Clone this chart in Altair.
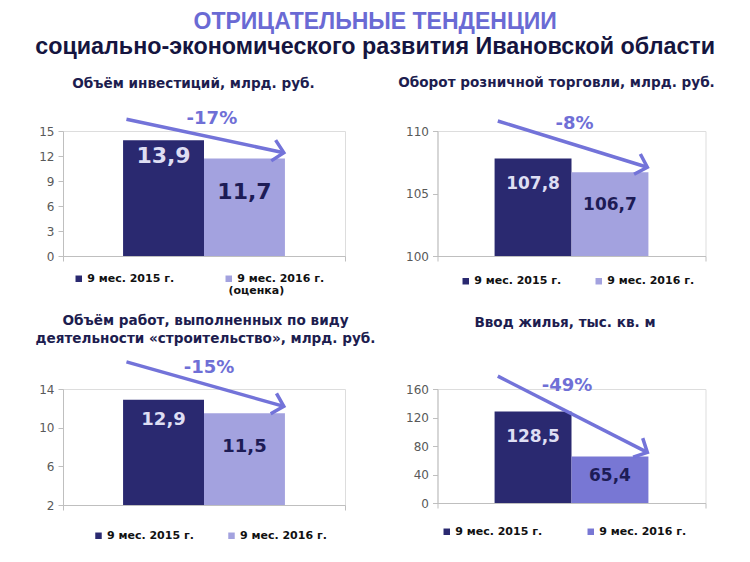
import math
import altair as alt
import pandas as pd

# ---------------- data ----------------
main_title = "ОТРИЦАТЕЛЬНЫЕ ТЕНДЕНЦИИ"
sub_title = "социально-экономического развития Ивановской области"

panel_titles = [
    "Объём инвестиций, млрд. руб.",
    "Оборот розничной торговли, млрд. руб.",
    ["Объём работ, выполненных по виду", "деятельности «строительство», млрд. руб."],
    "Ввод жилья, тыс. кв. м",
]
periods = ["9 мес. 2015 г.", "9 мес. 2016 г."]
estimate_note = "(оценка)"

investment = [13.9, 11.7]
retail = [107.8, 106.7]
construction = [12.9, 11.5]
housing = [128.5, 65.4]

changes = ["-17%", "-8%", "-15%", "-49%"]

y_domains = [[0, 15], [100, 110], [2, 14], [0, 160]]
y_ticks = [[0, 3, 6, 9, 12, 15], [100, 105, 110], [2, 6, 10, 14], [0, 40, 80, 120, 160]]

# arrow annotation (start / end heights, label position) in each panel's units
arrow_from = [16.4, 110.8, 16.8, 178]
arrow_to = [12.4, 107.1, 12.2, 71]
change_y = [16.5, 110.56, 16.2, 164.8]
change_x = [0.528, 0.511, 0.518, 0.483]
note_pos = (0.587, -4.2)

# ---------------- style ----------------
DARK = "#2a2970"
LIGHT = "#a3a2df"
LIGHT4 = "#7877d4"
ARROW = "#7373d9"
PCT = "#6f6fd6"
TXT_ON_DARK = "#dedef3"
TXT_ON_LIGHT = "#1d1c56"
AXIS = "#bfbfbf"
NAVY = "#1d1d4f"

WIDTHS = [282, 268, 282, 268]
HEIGHTS = [125, 125, 116, 114]
BAR_L, BAR_M, BAR_R = 0.213, 0.5, 0.787
ARR_X0, ARR_X1 = 0.225, 0.783
LABEL_SIZES = [22, 17, 18, 17]
LABEL_DY = [(16, 33), (25, 33), (20, 34), (26, 20)]
TITLE_DX = [-10.5, -15, 1.5, -6.5]
TITLE_OFFSET = [19, 25, 13, 44.5]
LEGEND_POS = [(10.25, 142), (22.75, 144.5), (30, 141), (3.75, 137)]
LEGEND_COLPAD = [49, 32, 32, 43]
LEGEND_SIZE = 11

CHEVRON = "M-1,-1L0,0L-1,1"
LEGEND_FONT = dict(font="DejaVu Sans", fontWeight="bold", fontSize=LEGEND_SIZE, color="#111111")


def fmt(v):
    return f"{v:.1f}".replace(".", ",")


def panel(i, values, colors, note=None):
    dmin, dmax = y_domains[i]
    w, h = WIDTHS[i], HEIGHTS[i]
    cats = periods
    bars = pd.DataFrame({
        "idx": [0, 1],
        "period": cats,
        "value": values,
        "x0": [BAR_L, BAR_M],
        "x1": [BAR_M, BAR_R],
    })
    bars["xc"] = (bars["x0"] + bars["x1"]) / 2
    bars["label"] = [fmt(v) for v in values]

    xs = alt.Scale(domain=[0, 1], nice=False, zero=False)
    ys = alt.Scale(domain=[dmin, dmax], nice=False, zero=False)
    x_axis = alt.Axis(title=None, labels=False, values=[0, 1], tickCount=2, tickSize=5,
                      tickColor=AXIS, domainColor=AXIS, grid=False)
    y_axis = alt.Axis(title=None, values=y_ticks[i], tickCount=len(y_ticks[i]),
                      tickSize=5, tickColor=AXIS, domainColor=AXIS, grid=False,
                      labelFont="DejaVu Sans", labelFontSize=12, labelColor="#595959",
                      labelPadding=4, labelOverlap=False, labelBound=False, labelFlush=False)
    lx, ly = LEGEND_POS[i]
    legend = alt.Legend(
        orient="none", legendX=lx, legendY=ly, direction="horizontal", title=None,
        symbolType="square", symbolSize=42, symbolStrokeWidth=0, symbolOpacity=1,
        labelFont="DejaVu Sans", labelFontWeight="bold", labelFontSize=LEGEND_SIZE,
        labelColor="#111111", labelOffset=3, columnPadding=LEGEND_COLPAD[i],
        padding=0, labelLimit=400,
    )

    base = alt.Chart(bars)
    bar = base.mark_bar().encode(
        x=alt.X("x0:Q", scale=xs, axis=x_axis, title=None),
        x2="x1:Q",
        y=alt.Y("value:Q", scale=ys, axis=y_axis, title=None),
        y2=alt.datum(dmin),
        color=alt.Color("period:N", scale=alt.Scale(domain=cats, range=colors), legend=legend),
    )
    layers = [bar]
    for j, col in enumerate([TXT_ON_DARK, TXT_ON_LIGHT]):
        layers.append(
            base.transform_filter(alt.datum.idx == j).mark_text(
                dy=LABEL_DY[i][j], fontSize=LABEL_SIZES[i], font="DejaVu Sans",
                fontWeight="bold", color=col, baseline="middle",
            ).encode(
                x=alt.X("xc:Q", title=None),
                y=alt.Y("value:Q", title=None),
                text="label:N",
            )
        )

    arr = pd.DataFrame({
        "xs": [ARR_X0], "xe": [ARR_X1],
        "ys": [arrow_from[i]], "ye": [arrow_to[i]],
        "lx": [change_x[i]], "ly": [change_y[i]], "pct": [changes[i]],
    })
    px = (ARR_X1 - ARR_X0) * w
    py = (arrow_from[i] - arrow_to[i]) * h / (dmax - dmin)
    ang = math.degrees(math.atan2(py, px))
    abase = alt.Chart(arr)
    layers.append(abase.mark_rule(color=ARROW, strokeWidth=3.5).encode(
        x=alt.X("xs:Q", title=None), x2="xe:Q",
        y=alt.Y("ys:Q", title=None), y2="ye:Q",
    ))
    layers.append(abase.mark_point(
        shape=CHEVRON, size=450, filled=False, stroke=ARROW, strokeWidth=3.5,
        angle=ang, opacity=1, strokeJoin="miter",
    ).encode(x=alt.X("xe:Q", title=None), y=alt.Y("ye:Q", title=None)))
    layers.append(abase.mark_text(
        font="DejaVu Sans", fontWeight="bold", fontSize=18, color=PCT, baseline="middle",
    ).encode(x=alt.X("lx:Q", title=None), y=alt.Y("ly:Q", title=None), text="pct:N"))

    if note is not None:
        layers.append(abase.mark_text(align="left", baseline="middle", **LEGEND_FONT).encode(
            x=alt.datum(note_pos[0]), y=alt.datum(note_pos[1]), text=alt.value(note),
        ))

    return alt.layer(*layers).properties(
        width=w, height=h,
        title=alt.Title(
            panel_titles[i], font="DejaVu Sans", fontSize=13.6, fontWeight="bold",
            color=NAVY, anchor="middle", frame="group", offset=TITLE_OFFSET[i],
            dx=TITLE_DX[i], lineHeight=18,
        ),
    )


p1 = panel(0, investment, [DARK, LIGHT], note=estimate_note)
p2 = panel(1, retail, [DARK, LIGHT])
p3 = panel(2, construction, [DARK, LIGHT])
p4 = panel(3, housing, [DARK, LIGHT4])

chart = alt.concat(
    p1, p2, p3, p4, columns=2, spacing={"row": 133, "column": 92.5},
    bounds="flush", align="each",
).resolve_scale(
    x="independent", y="independent", color="independent"
).properties(
    title=alt.Title(
        main_title, subtitle=sub_title, anchor="middle",
        font="Liberation Sans", fontSize=23, fontWeight="bold", color="#6a6ad4",
        subtitleFont="Liberation Sans", subtitleFontSize=23.3, subtitleFontWeight="bold",
        subtitleColor="#151540", subtitlePadding=2, offset=18,
    ),
    padding={"left": 27, "top": 2, "right": 5, "bottom": 5},
).configure_view(stroke=None).configure_axis(
    labelOverlap=False
).configure(background="white")

chart.save("out.html", embed_options={"renderer": "svg", "actions": False})
